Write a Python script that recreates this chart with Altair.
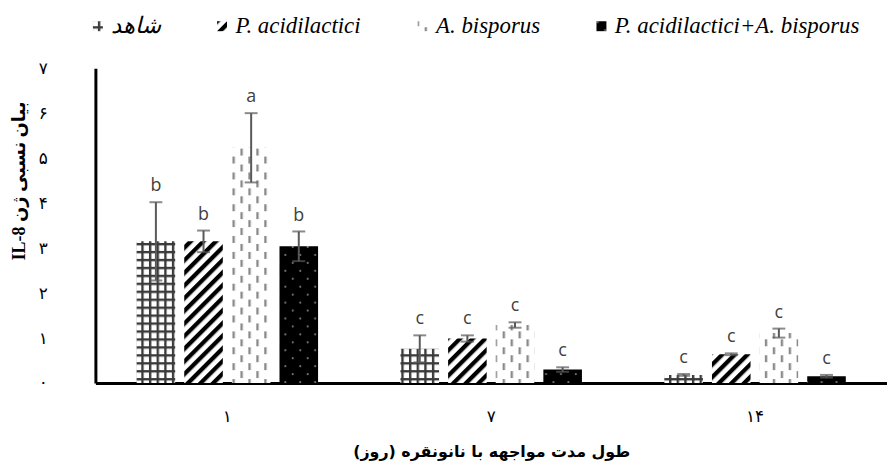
import json
import altair as alt
import pandas as pd

# ---------------- data ----------------
days = ["۱", "۷", "۱۴"]
treatments = ["شاهد", "P. acidilactici", "A. bisporus", "P. acidilactici+A. bisporus"]
y_tick_labels = ["۰", "۱", "۲", "۳", "۴", "۵", "۶", "۷"]

mean_control = [3.15, 0.76, 0.18]
mean_pa = [3.15, 0.99, 0.64]
mean_ab = [5.23, 1.29, 1.11]
mean_combo = [3.04, 0.30, 0.15]

err_control = [0.87, 0.30, 0.02]
err_pa = [0.24, 0.07, 0.02]
err_ab = [0.77, 0.06, 0.10]
err_combo = [0.33, 0.05, 0.03]

letters_control = ["b", "c", "c"]
letters_pa = ["b", "c", "c"]
letters_ab = ["a", "c", "c"]
letters_combo = ["b", "c", "c"]

x_title = "طول مدت مواجهه با نانونقره (روز)\u200f"
y_title = "IL-8 بیان نسبی ژن"

# ---------------- table ----------------
means = [mean_control, mean_pa, mean_ab, mean_combo]
errs = [err_control, err_pa, err_ab, err_combo]
letters = [letters_control, letters_pa, letters_ab, letters_combo]
rows = []
for t, name in enumerate(treatments):
    for d, day in enumerate(days):
        m, e = means[t][d], errs[t][d]
        rows.append({"day": day, "treatment": name, "mean": m, "lo": m - e,
                     "hi": m + e, "letter": letters[t][d]})
df = pd.DataFrame(rows)

pattern_ids = ["url(#pat-ctrl)", "url(#pat-pa)", "url(#pat-ab)", "url(#pat-combo)"]

PATTERN_DEFS = """
<svg width="0" height="0" style="position:absolute;left:0;top:0" aria-hidden="true">
 <defs>
  <pattern id="pat-ctrl" patternUnits="userSpaceOnUse" width="7.7" height="8">
   <rect width="7.7" height="8" fill="#ffffff"/>
   <rect x="0" y="0" width="7.7" height="2.4" fill="#3a3a3a"/>
   <rect x="0" y="0" width="2.4" height="8" fill="#3a3a3a"/>
  </pattern>
  <pattern id="pat-pa" patternUnits="userSpaceOnUse" width="9" height="9" patternTransform="rotate(45)">
   <rect width="9" height="9" fill="#ffffff"/>
   <rect x="0" y="0" width="4.3" height="9" fill="#000000"/>
  </pattern>
  <pattern id="pat-ab" patternUnits="userSpaceOnUse" width="16" height="16">
   <rect width="16" height="16" fill="#ffffff"/>
   <rect x="2" y="1" width="2.4" height="7" fill="#8a8a8a"/>
   <rect x="10" y="9" width="2.4" height="7" fill="#8a8a8a"/>
  </pattern>
  <pattern id="pat-combo" patternUnits="userSpaceOnUse" width="15" height="16">
   <rect width="15" height="16" fill="#000000"/>
   <circle cx="3.75" cy="4" r="1.1" fill="#808080"/>
   <circle cx="11.25" cy="12" r="1.1" fill="#808080"/>
  </pattern>
 </defs>
</svg>
"""

label_expr = json.dumps(y_tick_labels, ensure_ascii=False) + "[datum.value]"

y_scale = alt.Scale(domain=[0, 7], nice=False)
y_axis = alt.Axis(values=list(range(len(y_tick_labels))), labelExpr=label_expr,
                  ticks=False, tickSize=0, grid=False, labelPadding=53,
                  labelAlign="center", labelFontSize=17, labelFont="DejaVu Sans",
                  labelColor="#000000", domainColor="#000000", domainWidth=3,
                  titleFont="Liberation Serif, DejaVu Sans",
                  titleFontSize=18, titleFontWeight="bold", titleColor="#000000",
                  titleX=-76, titleY=113, titleAlign="center",
                  titleBaseline="middle", titleAngle=270)

base = alt.Chart(df).encode(
    x=alt.X("day:N", sort=days,
            scale=alt.Scale(paddingInner=0, paddingOuter=0),
            axis=alt.Axis(title=x_title, labelAngle=0, ticks=False, tickSize=0,
                          labelPadding=26, labelFontSize=17, labelFont="DejaVu Sans",
                          labelColor="#000000", domainColor="#000000", domainWidth=3,
                          titleFont="DejaVu Sans", titleFontSize=16, titleFontWeight="bold",
                          titleColor="#000000", titleY=69, titleBaseline="middle")),
    xOffset=alt.XOffset("treatment:N", sort=treatments,
                        scale=alt.Scale(paddingInner=0.19, paddingOuter=0.865)),
)

bars = base.mark_bar(strokeWidth=0).encode(
    y=alt.Y("mean:Q", scale=y_scale, axis=y_axis, title=y_title),
    color=alt.Color("treatment:N", sort=treatments,
                    scale=alt.Scale(domain=treatments, range=pattern_ids),
                    legend=alt.Legend(title=None, orient="none", direction="horizontal",
                                      legendX=-9, legendY=-54, symbolType="square",
                                      symbolSize=100, symbolStrokeWidth=0,
                                      labelFont="Liberation Serif, DejaVu Sans",
                                      labelFontStyle="italic", labelFontSize=23,
                                      labelColor="#000000", labelOffset=2,
                                      columnPadding=50, labelLimit=400)),
)

err_color = "#595959"
rules = base.mark_rule(color=err_color, strokeWidth=2).encode(
    y=alt.Y("lo:Q", scale=y_scale, axis=y_axis, title=y_title), y2="hi:Q")
caps_hi = base.mark_tick(color=err_color, thickness=2, size=13).encode(
    y=alt.Y("hi:Q", scale=y_scale, axis=y_axis, title=y_title))
caps_lo = base.mark_tick(color=err_color, thickness=2, size=13).encode(
    y=alt.Y("lo:Q", scale=y_scale, axis=y_axis, title=y_title))
labels = base.mark_text(dy=-11, baseline="alphabetic", fontSize=18, font="Open Sans",
                        color="#404040").encode(
    y=alt.Y("hi:Q", scale=y_scale, axis=y_axis, title=y_title), text="letter:N")

chart = alt.layer(bars, rules, caps_hi, caps_lo, labels).properties(
    width=797, height=317,
    autosize=alt.AutoSizeParams(type="none"),
    padding={"left": 88, "top": 59, "right": 0, "bottom": 90},
    background="#ffffff",
).configure_view(stroke=None)


class _PatternTemplate:
    """Standard altair HTML template plus the SVG pattern fills used by the bars."""
    def __init__(self, base_template):
        self.base_template = base_template

    def render(self, **kwargs):
        html = self.base_template.render(**kwargs)
        return html.replace("<body>", "<body>\n" + PATTERN_DEFS, 1)


from altair.utils.html import TEMPLATES

chart.save("out.html", embed_options={"renderer": "svg", "actions": False},
           template=_PatternTemplate(TEMPLATES["standard"]))
